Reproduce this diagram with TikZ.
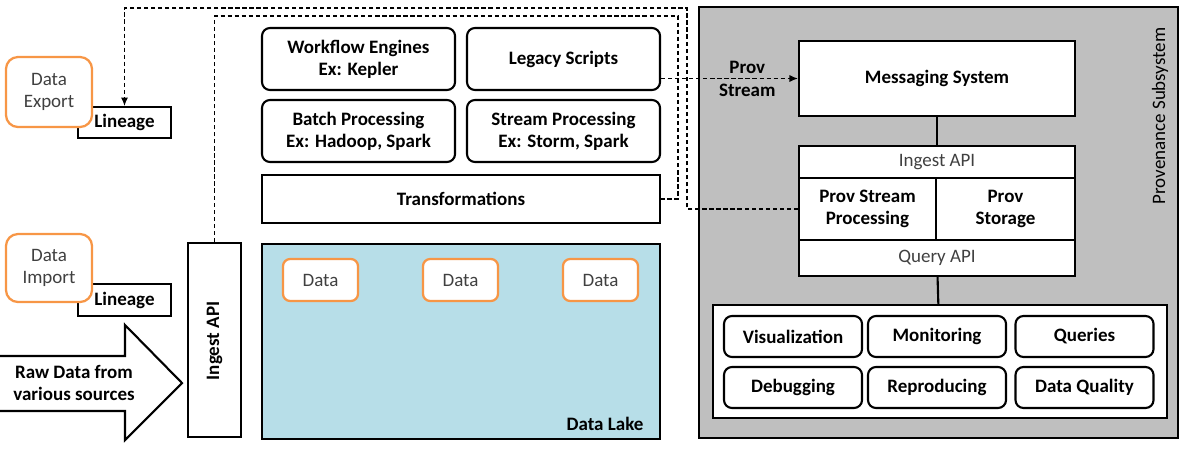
\documentclass[tikz,border=0pt]{standalone}
\usepackage{fontspec}
\setmainfont{Carlito}
\usetikzlibrary{arrows.meta}

\definecolor{boxorange}{HTML}{F79646}
\definecolor{lakeblue}{HTML}{B7DEE8}
\definecolor{provgray}{HTML}{BFBFBF}
\definecolor{txtgray}{HTML}{404040}

\begin{document}
\begin{tikzpicture}[x=0.025cm, y=-0.025cm,
  box/.style={draw, line width=1.5pt, fill=white, align=center, inner sep=0pt,
    font=\fontsize{13.5}{15.6}\selectfont\bfseries},
  rbox/.style={box, rounded corners=0.2cm},
  obox/.style={draw=boxorange, line width=1.6pt, fill=white, rounded corners=0.3cm,
    text=txtgray, align=center, inner sep=0pt, font=\fontsize{13.5}{15.6}\selectfont},
  apibox/.style={box, text=txtgray, font=\fontsize{13.5}{15.6}\selectfont},
  lbl/.style={font=\fontsize{13.5}{15.6}\selectfont\bfseries, align=center},
  dashline/.style={dash pattern=on 3pt off 2pt, line width=0.8pt},
  tip/.style={-{Latex[length=6pt,width=5pt]}}
]
\useasboundingbox (0,0) rectangle (1188,456);

% provenance subsystem
\node (prov) at (938.5,222.5) [draw, line width=1.5pt, fill=provgray, minimum width=11.975cm, minimum height=10.775cm]{};
\node (provlbl) at (1160,116) [lbl, rotate=90, font=\fontsize{13.5}{15.6}\selectfont]{Provenance Subsystem};

\node (msg) at (937,78.5) [box, minimum width=6.9cm, minimum height=1.875cm]{Messaging System};
\node (ingprov) at (937,162) [apibox, minimum width=6.9cm, minimum height=0.8cm]{Ingest API};
\node (pssp) at (867.5,209) [box, minimum width=3.425cm, minimum height=1.55cm]{Prov Stream\\Processing};
\node (pstore) at (1005.5,209) [box, minimum width=3.475cm, minimum height=1.55cm]{Prov\\Storage};
\node (query) at (937,258) [apibox, minimum width=6.9cm, minimum height=0.9cm]{Query API};

\node (apps) at (940,361.5) [draw, line width=1.5pt, fill=white, minimum width=11.35cm, minimum height=2.825cm]{};
\node (vis) at (793,336.5) [rbox, minimum width=3.45cm, minimum height=1.025cm]{Visualization};
\node (mon) at (937,336.5) [rbox, minimum width=3.45cm, minimum height=1.025cm]{Monitoring};
\node (qry) at (1084.5,336.5) [rbox, minimum width=3.45cm, minimum height=1.025cm]{Queries};
\node (dbg) at (793,387.5) [rbox, minimum width=3.45cm, minimum height=1.025cm]{Debugging};
\node (rep) at (937,387.5) [rbox, minimum width=3.45cm, minimum height=1.025cm]{Reproducing};
\node (dq) at (1084.5,387.5) [rbox, minimum width=3.45cm, minimum height=1.025cm]{Data Quality};

\draw [line width=1.5pt] (msg) -- (ingprov);
\draw [line width=1.5pt] (query) -- (apps);

% processing layer
\node (wf) at (358.5,59) [rbox, minimum width=4.825cm, minimum height=1.55cm]{Workflow Engines\\Ex: Kepler};
\node (legacy) at (563.5,59) [rbox, minimum width=4.825cm, minimum height=1.55cm]{Legacy Scripts};
\node (batch) at (358.5,131) [rbox, minimum width=4.825cm, minimum height=1.55cm]{Batch Processing\\Ex: Hadoop, Spark};
\node (stream) at (563.5,131) [rbox, minimum width=4.825cm, minimum height=1.55cm]{Stream Processing\\Ex: Storm, Spark};
\node (trans) at (461,199) [box, minimum width=9.95cm, minimum height=1.2cm]{Transformations};

% data lake
\node (lake) at (461,341.5) [draw, line width=1.5pt, fill=lakeblue, minimum width=9.95cm, minimum height=4.875cm]{};
\node (d1) at (320.5,280) [obox, minimum width=1.875cm, minimum height=1.05cm, rounded corners=0.18cm]{Data};
\node (d2) at (460.5,280) [obox, minimum width=1.875cm, minimum height=1.05cm, rounded corners=0.18cm]{Data};
\node (d3) at (600.5,280) [obox, minimum width=1.875cm, minimum height=1.05cm, rounded corners=0.18cm]{Data};
\node (lakelbl) at (605,424) [lbl]{Data Lake};

\node (ingest) at (214.5,340) [box, minimum width=1.325cm, minimum height=4.85cm]{};
\node (inglbl) at (214.5,341) [lbl, rotate=90]{Ingest API};

% raw data arrow
\draw [line width=1.5pt, fill=white] (0,356) -- (125,356) -- (125,325) -- (182,383) -- (125,440) -- (125,411) -- (0,411);
\node (raw) at (74,383) [lbl]{Raw Data from\\various sources};

% export / import
\node (linexp) at (124.5,122.5) [box, minimum width=2.325cm, minimum height=0.775cm]{Lineage};
\node (linimp) at (124.5,300) [box, minimum width=2.325cm, minimum height=0.8cm]{Lineage};
\node (exp) at (49,92) [obox, minimum width=2.15cm, minimum height=1.75cm]{Data\\Export};
\node (imp) at (49,268) [obox, minimum width=2.15cm, minimum height=1.7cm]{Data\\Import};

% dashed lineage paths
\coordinate (turnA) at (687,8);
\coordinate (turnB) at (678,16);
\draw [dashline, tip] (pssp.west) -| (turnA) -| (linexp.north);
\draw [dashline] (ingest.north) |- (turnB) |- (trans.east);
\draw [dashline, tip] (legacy.east |- msg.west) -- node[lbl, pos=0.63, above]{Prov} node[lbl, pos=0.63, below]{Stream} (msg.west);

\end{tikzpicture}
\end{document}
